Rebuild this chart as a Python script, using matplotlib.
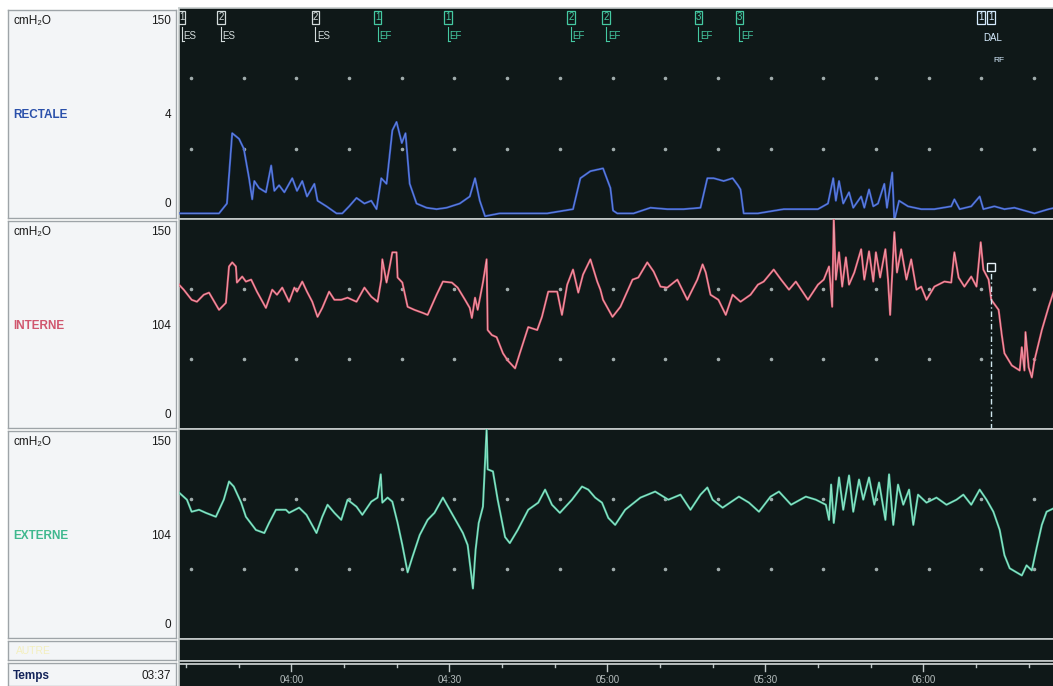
import matplotlib.pyplot as plt
from matplotlib.transforms import blended_transform_factory

plt.rcParams['font.family'] = ['Liberation Sans', 'DejaVu Sans']

# time in minutes since 00:00 (04:00 = 240), pressure in cmH2O
rect_t = [218.7, 221.1, 226.3, 227.8, 228.8, 230.1, 231.0, 232.0, 232.6, 233.0,
          233.9, 235.2, 236.2, 236.8, 237.7, 238.7, 239.6, 240.2, 241.1, 242.1,
          243.0, 244.4, 245.0, 246.7, 248.6, 249.7, 251.0, 252.4, 253.9, 255.2,
          256.2, 257.1, 258.1, 259.2, 260.0, 261.0, 261.7, 262.5, 263.8, 265.7,
          267.6, 269.5, 272.0, 273.9, 274.9, 275.8, 276.8, 279.6, 285.3, 288.6,
          293.5, 294.9, 296.8, 299.2, 300.6, 301.1, 301.9, 303.8, 305.0, 308.2,
          311.4, 314.5, 317.7, 319.0, 320.2, 322.1, 323.8, 324.8, 325.3, 325.9,
          328.6, 333.5, 340.0, 341.9, 342.9, 343.4, 344.0, 344.8, 345.9, 346.7,
          348.2, 348.8, 349.7, 350.5, 351.4, 352.6, 353.1, 354.1, 354.5, 355.4,
          357.1, 359.6, 362.1, 365.3, 365.9, 366.9, 369.1, 370.7, 371.4, 373.5,
          375.4, 377.3, 379.2, 381.1, 383.8, 385.0]
rect_p = [4, 4, 4, 11, 61, 57, 50, 29, 14, 27,
          22, 19, 38, 20, 24, 19, 25, 29, 20, 27,
          16, 25, 13, 9, 4, 4, 9, 15, 11, 13,
          7, 29, 25, 63, 69, 54, 61, 25, 11, 8,
          7, 8, 11, 16, 29, 13, 2, 4, 4, 4,
          7, 29, 34, 36, 22, 6, 4, 4, 4, 8,
          7, 7, 8, 29, 29, 27, 29, 24, 21, 4,
          4, 7, 7, 11, 29, 13, 27, 11, 19, 8,
          16, 8, 21, 9, 11, 25, 8, 33, -1, 13,
          9, 7, 7, 9, 14, 7, 9, 16, 7, 9,
          7, 8, 6, 4, 7, 8]

int_t = [218.7, 219.6, 221.1, 222.1, 223.4, 224.4, 226.3, 227.6, 228.2, 228.8,
         229.5, 229.7, 230.7, 231.4, 232.4, 233.5, 235.2, 236.4, 237.3, 238.3,
         239.6, 240.6, 241.1, 242.1, 243.0, 244.0, 245.0, 245.9, 247.2, 248.2,
         249.5, 250.7, 252.4, 253.9, 255.2, 256.4, 257.1, 257.3, 258.1, 258.7,
         259.2, 260.0, 260.2, 261.1, 262.1, 263.4, 265.0, 265.9, 267.6, 268.8,
         270.5, 271.6, 273.0, 273.9, 274.3, 274.9, 275.4, 276.4, 277.1, 277.3,
         278.1, 279.0, 280.2, 281.1, 282.5, 283.4, 285.0, 286.7, 287.6, 288.8,
         290.5, 291.4, 292.4, 293.5, 294.5, 295.4, 296.8, 298.1, 298.7, 299.2,
         301.0, 302.5, 304.8, 305.9, 307.6, 308.8, 310.1, 311.4, 313.3, 315.2,
         317.1, 318.1, 318.7, 319.6, 321.1, 322.5, 323.8, 325.3, 327.2, 328.6,
         329.7, 331.6, 333.0, 334.5, 335.8, 338.1, 340.0, 341.1, 342.1, 342.7,
         343.0, 343.4, 344.0, 344.6, 345.3, 345.9, 346.9, 348.2, 348.8, 349.7,
         350.5, 351.0, 351.8, 352.8, 353.3, 353.7, 354.5, 355.0, 355.8, 356.8,
         357.7, 358.7, 359.6, 360.6, 362.1, 364.0, 365.3, 365.9, 366.7, 367.8,
         369.1, 370.1, 370.9, 371.4, 372.4, 372.9, 374.3, 374.9, 375.4, 376.8,
         378.3, 378.7, 379.2, 379.4, 380.0, 380.6, 381.1, 382.5, 383.8, 385.0]
int_p = [103.1, 99.5, 92.3, 90.9, 95.9, 97.4, 85.1, 90.1, 116.1, 119.0,
         116.1, 104.6, 108.9, 105.3, 106.7, 98.1, 86.5, 99.5, 95.9, 101.0,
         90.9, 101.0, 98.1, 105.3, 98.1, 90.9, 80.1, 86.5, 98.1, 92.3,
         92.3, 93.8, 90.9, 101.0, 94.5, 90.9, 106.7, 121.2, 104.6, 116.1,
         126.2, 126.2, 108.2, 104.6, 87.3, 85.1, 82.9, 81.5, 95.9, 105.3,
         104.6, 101.0, 92.3, 86.5, 79.3, 93.8, 85.1, 104.6, 121.2, 70.7,
         67.1, 65.6, 54.1, 49.0, 43.3, 54.1, 72.8, 70.7, 80.1, 98.1,
         98.1, 81.5, 103.1, 113.9, 97.4, 110.3, 121.2, 105.3, 99.5, 92.3,
         80.1, 87.3, 106.7, 108.2, 119.0, 112.5, 101.7, 101.0, 106.7, 92.3,
         106.7, 117.6, 111.8, 95.9, 92.3, 81.5, 95.9, 90.9, 95.9, 103.1,
         105.3, 113.9, 106.7, 99.5, 105.3, 92.3, 103.1, 106.7, 116.1, 87.3,
         150.0, 106.7, 126.2, 101.7, 122.6, 103.1, 111.8, 128.4, 106.7, 126.9,
         105.3, 126.2, 108.2, 128.4, 106.7, 81.5, 140.6, 111.8, 128.4, 106.7,
         121.2, 99.5, 101.7, 92.3, 101.7, 105.3, 104.6, 126.2, 108.2, 101.7,
         108.9, 101.7, 133.4, 113.9, 106.7, 92.3, 85.1, 67.1, 54.1, 45.4,
         41.8, 58.4, 41.8, 69.2, 44.0, 36.8, 49.0, 70.7, 87.3, 101.0]

ext_t = [218.7, 220.2, 221.1, 222.5, 223.8, 225.7, 227.2, 228.2, 229.1, 230.5,
         231.4, 233.3, 234.9, 235.8, 237.1, 239.0, 239.6, 241.5, 242.9, 244.8,
         245.9, 246.9, 248.2, 249.5, 250.7, 252.4, 253.5, 255.2, 256.4, 257.0,
         257.3, 258.3, 259.2, 260.2, 261.1, 262.1, 263.0, 264.4, 265.9, 267.2,
         268.8, 270.1, 271.4, 272.6, 273.5, 274.5, 275.0, 275.6, 276.4, 277.1,
         277.3, 278.3, 279.2, 280.6, 281.5, 283.0, 285.0, 286.9, 288.2, 289.5,
         291.0, 293.3, 295.2, 296.4, 297.7, 299.0, 300.2, 301.5, 303.4, 306.3,
         309.1, 311.6, 313.9, 315.8, 317.7, 319.0, 320.0, 321.9, 325.0, 326.9,
         328.8, 331.0, 332.6, 334.9, 337.7, 339.6, 341.5, 342.1, 342.5, 343.0,
         344.0, 344.8, 345.9, 346.7, 347.8, 348.6, 349.7, 350.7, 351.6, 352.8,
         353.5, 354.3, 355.2, 356.2, 357.3, 358.1, 359.0, 360.6, 362.5, 364.4,
         366.3, 367.6, 369.1, 370.7, 372.0, 373.3, 374.5, 375.4, 376.4, 377.7,
         378.7, 379.6, 380.6, 381.5, 382.5, 383.4, 385.0]
ext_p = [104.6, 99.5, 90.9, 92.3, 90.1, 87.3, 99.5, 112.5, 108.9, 97.4,
         87.3, 77.9, 75.7, 82.9, 92.3, 92.3, 90.1, 93.8, 88.7, 75.7,
         87.3, 95.9, 90.1, 85.1, 99.5, 94.5, 88.7, 98.1, 101.0, 117.6,
         97.4, 101.0, 98.1, 82.9, 67.1, 47.6, 58.4, 74.3, 85.1, 90.1,
         101.0, 92.3, 83.7, 75.7, 67.1, 36.1, 63.5, 82.9, 94.5, 150.0,
         121.2, 119.7, 99.5, 72.8, 68.5, 77.9, 92.3, 97.4, 106.7, 95.9,
         90.1, 99.5, 108.9, 106.7, 101.0, 97.4, 86.5, 81.5, 92.3, 101.0,
         105.3, 99.5, 103.1, 92.3, 103.1, 108.2, 99.5, 93.8, 101.7, 97.4,
         90.9, 101.7, 105.3, 95.9, 101.7, 99.5, 95.9, 85.1, 110.3, 82.9,
         115.4, 92.3, 116.8, 90.9, 113.9, 99.5, 115.4, 95.9, 111.8, 85.1,
         117.6, 81.5, 110.3, 95.9, 106.7, 81.5, 103.1, 97.4, 101.0, 95.9,
         99.5, 103.1, 95.9, 106.7, 99.5, 90.9, 77.9, 59.9, 50.5, 47.6,
         45.4, 52.6, 49.0, 64.9, 81.5, 90.9, 93.8]

# event markers along the top
event_t = [219.2, 226.7, 244.6, 256.4, 269.7, 293.1, 299.8, 317.3, 325.1, 371.0, 372.9]
event_num = ['1', '2', '2', '1', '1', '2', '2', '3', '3', '1', '1']
event_lab = ['ES', 'ES', 'ES', 'EF', 'EF', 'EF', 'EF', 'EF', 'EF', '', 'DAL']

# cursor on the INTERNE trace
cursor_t = 372.8
cursor_p = 115.4

channels = ['RECTALE', 'INTERNE', 'EXTERNE']
mid_labels = ['4', '104', '104']
major_t = [240, 270, 300, 330, 360]
minor_t = [220, 230, 250, 260, 280, 290, 310, 320, 340, 350, 370, 380]
grid_t = [221, 231, 241, 251, 261, 271, 281, 291, 301, 311, 321, 331, 341, 351, 361, 371, 381]

W, H = 1053, 686
T0, T1 = 218.7, 385.0
DARK = '#0f1818'
EDGE = '#c6cccc'
PANEL = '#f3f5f7'


def rect(x0, y0, x1, y1):
    return [x0 / W, 1 - y1 / H, (x1 - x0) / W, (y1 - y0) / H]


def label_box(r):
    a = fig.add_axes(r)
    a.set_facecolor(PANEL)
    a.set_xticks([])
    a.set_yticks([])
    a.set_xlim(0, 1)
    a.set_ylim(0, 1)
    for s in a.spines.values():
        s.set_color('#9ea4a8')
        s.set_linewidth(1)
    return a


def dark_box(r):
    a = fig.add_axes(r)
    a.set_facecolor(DARK)
    a.set_xticks([])
    a.set_yticks([])
    a.set_xlim(T0, T1)
    for s in a.spines.values():
        s.set_color(EDGE)
        s.set_linewidth(1.2)
    a.spines['right'].set_visible(False)
    return a


fig = plt.figure(figsize=(W / 100, H / 100), dpi=100)
fig.patch.set_facecolor('white')

rows = [(8, 219), (219, 429), (429, 639)]
series = [(rect_t, rect_p), (int_t, int_p), (ext_t, ext_p)]
colors = ['#3558c4', '#d9566c', '#4cc49e']
cores = ['#7f9be6', '#f6c4cc', '#c4f2e2']
name_colors = ['#2a50aa', '#d0566e', '#3fb88e']

axes = []
for i, (y0, y1) in enumerate(rows):
    la = label_box(rect(8, y0 + 2, 176, y1 - 1))
    la.text(0.03, 0.945, 'cmH₂O', fontsize=8.5, color='#1a1a1a', va='center')
    la.text(0.97, 0.945, '150', fontsize=8.5, color='#1a1a1a', va='center', ha='right')
    la.text(0.97, 0.495, mid_labels[i], fontsize=8.5, color='#1a1a1a', va='center', ha='right')
    la.text(0.97, 0.065, '0', fontsize=8.5, color='#1a1a1a', va='center', ha='right')
    la.text(0.03, 0.495, channels[i], fontsize=8.5, fontweight='bold',
            color=name_colors[i], va='center')

    ax = dark_box(rect(179, y0, W + 2, y1))
    ax.set_ylim(0, 150)
    ax.scatter(grid_t, [100] * len(grid_t), s=2.5, color='#a0acac', zorder=2)
    ax.scatter(grid_t, [50] * len(grid_t), s=2.5, color='#a0acac', zorder=2)
    t, p = series[i]
    ax.plot(t, p, color=colors[i], lw=1.5, zorder=3)
    ax.plot(t, p, color=cores[i], lw=0.5, alpha=0.8, zorder=4)
    axes.append(ax)

# event markers on the top panel
ax1 = axes[0]
tr = blended_transform_factory(ax1.transData, ax1.transAxes)
for t, n, lab in zip(event_t, event_num, event_lab):
    if lab == 'ES':
        c = '#d4dcdc'
    elif lab == 'EF':
        c = '#45c9a2'
    else:
        c = '#d6ecff'
    ax1.text(t, 0.955, n, transform=tr, fontsize=7, color=c, ha='center', va='center',
             bbox=dict(boxstyle='square,pad=0.12', fc='none', ec=c, lw=0.9))
    if lab in ('ES', 'EF'):
        ax1.plot([t, t], [0.91, 0.845], transform=tr, color=c, lw=0.8)
        ax1.plot([t, t + 0.5], [0.845, 0.845], transform=tr, color=c, lw=0.8)
        ax1.text(t + 0.3, 0.865, lab, transform=tr, fontsize=7, color=c,
                 ha='left', va='center')
    elif lab == 'DAL':
        ax1.text(t + 0.2, 0.86, 'DAL', transform=tr, fontsize=7, color=c,
                 ha='center', va='center')
        ax1.text(t + 1.4, 0.75, 'RF', transform=tr, fontsize=6, color=c,
                 ha='center', va='center')

# cursor on the INTERNE channel
ax2 = axes[1]
ax2.plot([cursor_t, cursor_t], [0, cursor_p - 4], color='#cfe6ee', lw=1,
         linestyle=(0, (4, 2, 1, 2)), zorder=5)
ax2.plot([cursor_t], [cursor_p], marker='s', ms=6, mfc=DARK, mec='#e6f0f6', mew=1, zorder=6)

# empty strip
label_box(rect(8, 641, 176, 660)).text(0.05, 0.5, 'AUTRE', fontsize=7.5, color='#f4eeb0',
                                       va='center', alpha=0.8)
dark_box(rect(179, 639, W + 2, 661))

# time axis
lt = label_box(rect(8, 663, 176, 686))
lt.text(0.03, 0.45, 'Temps', fontsize=8.5, fontweight='bold', color='#14245a', va='center')
lt.text(0.97, 0.45, '03:37', fontsize=8.5, color='#1a1a1a', va='center', ha='right')

at = dark_box(rect(179, 661, W + 2, 688))
at.spines['bottom'].set_visible(False)
at.set_ylim(0, 1)
trt = blended_transform_factory(at.transData, at.transAxes)
for t in minor_t:
    at.plot([t, t], [0.88, 0.78], transform=trt, color='#c0c8c8', lw=1)
for t in major_t:
    at.plot([t, t], [0.88, 0.62], transform=trt, color='#c0c8c8', lw=1)
    at.text(t, 0.28, '%02d:%02d' % (t // 60, t % 60), transform=trt, fontsize=7,
            color='#b4bcbc', ha='center', va='center')
at.axhline(0.88, color='#d4dada', lw=1.2)

plt.savefig('out.png', dpi=100, facecolor='white')
